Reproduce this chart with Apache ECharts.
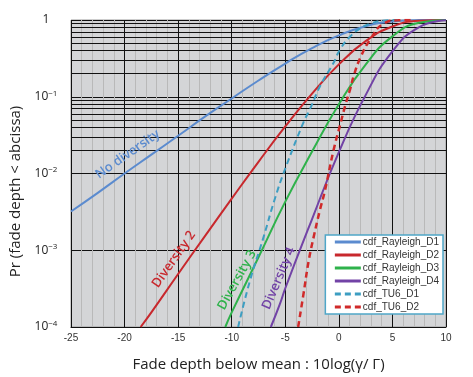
<!DOCTYPE html>
<html>
<head>
<meta charset="utf-8">
<script src="https://cdn.jsdelivr.net/npm/echarts@6/dist/echarts.min.js"></script>
<style>
  html, body { margin: 0; padding: 0; background: #fff; }
  #d_chart { width: 473px; height: 377px; }
</style>
</head>
<body>
<div id="d_chart"></div>
<script>
// values (x in dB, y = probability)
var d1X = [-25, -22.5, -20, -17.5, -15, -12.5, -10, -7.5, -5, -2.5, 0, 2.5, 5, 7.5, 10]
var d1Y = [0.0032, 0.0056, 0.0100, 0.0176, 0.031, 0.055, 0.095, 0.163, 0.271, 0.43, 0.63, 0.83, 0.958, 0.9965, 1.0]

var d2X = [-18.5, -17.5, -15, -12.5, -10, -7.5, -5, -2.5, 0, 2.5, 5, 7.5, 10]
var d2Y = [0.0001, 0.000155, 0.00049, 0.00153, 0.0047, 0.0142, 0.041, 0.110, 0.264, 0.53, 0.824, 0.976, 0.9995]

var d3X = [-10.6, -10, -7.5, -5, -2.5, 0, 2.5, 5, 7.5, 10]
var d3Y = [0.0001, 0.000155, 0.00081, 0.0043, 0.0193, 0.080, 0.263, 0.612, 0.919, 0.997]

var d4X = [-6.35, -5.5, -5, -2.5, 0, 2.5, 5, 7.5, 10]
var d4Y = [0.0001, 0.0002, 0.00032, 0.00255, 0.019, 0.105, 0.39, 0.81, 0.99]

var tu1X = [-9.4, -8.3, -7.05, -5.95, -5.0, -3.3, -2.7, -1.75, -0.5, 0.1, 1.05, 2.0, 3.0, 4.1, 5.5]
var tu1Y = [0.0001, 0.0004, 0.00145, 0.0048, 0.0116, 0.0465, 0.069, 0.138, 0.276, 0.41, 0.61, 0.78, 0.9, 0.98, 1.0]

var tu2X = [-3.8, -3.3, -2.8, -2.3, -1.8, -1.3, -0.5, 0.1, 0.6, 1.05, 1.4, 2.0, 2.9, 4.2, 5.5, 7]
var tu2Y = [0.0001, 0.00027, 0.00075, 0.0016, 0.0032, 0.006, 0.02, 0.042, 0.077, 0.125, 0.19, 0.32, 0.55, 0.9, 0.99, 1.0]

var seriesNames = ['cdf_Rayleigh_D1', 'cdf_Rayleigh_D2', 'cdf_Rayleigh_D3', 'cdf_Rayleigh_D4', 'cdf_TU6_D1', 'cdf_TU6_D2']

// log grid lines
var decades = [0.0001, 0.001, 0.01, 0.1]
var mults = [2, 3, 4, 5, 6, 7, 8, 9]

// curve annotations
var noteText = ['No diversity', 'Diversity 2', 'Diversity 3', 'Diversity 4']
var noteX = [-19.7, -15.4, -9.5, -5.6]
var noteY = [0.0178, 0.00076, 0.00041, 0.00043]
var noteAngle = [35, 55, 61, 67]
var noteColor = ['#5b8bcf', '#c8282d', '#2fb24b', '#7243a6']

function pairs (xs, ys) {
  return xs.map(function (x, i) { return [x, ys[i]] })
}

var minorLines = []
decades.forEach(function (d) {
  mults.forEach(function (m) {
    minorLines.push({ yAxis: d * m })
  })
})

var chart = echarts.init(document.getElementById('d_chart'))

var lineFont = 'Open Sans'

var option = {
  animation: false,
  grid: {
    left: 71,
    right: 27,
    top: 20,
    bottom: 47,
    show: true,
    backgroundColor: '#d4d5d7',
    borderColor: '#9a9a9a',
    borderWidth: 1
  },
  legend: {
    data: seriesNames,
    orient: 'vertical',
    right: 30,
    top: 235,
    itemWidth: 26,
    itemHeight: 10,
    itemGap: 3,
    padding: [2, 4, 2, 8],
    backgroundColor: '#fff',
    borderColor: '#4fa6c8',
    borderWidth: 1.5,
    borderRadius: 0,
    itemStyle: { opacity: 0 },
    lineStyle: { width: 3 },
    textStyle: {
      fontFamily: 'Liberation Sans',
      fontSize: 10,
      color: '#333',
      padding: [0, 0, 0, -3]
    }
  },
  xAxis: {
    type: 'value',
    min: -25,
    max: 10,
    interval: 5,
    name: 'Fade depth below mean : 10log(γ/ Γ)',
    nameLocation: 'middle',
    nameGap: 30,
    nameTextStyle: { fontFamily: lineFont, fontSize: 15, color: '#222' },
    axisLine: { onZero: false, lineStyle: { color: '#111', width: 1 } },
    axisTick: { show: false },
    axisLabel: { fontFamily: 'Liberation Sans', fontSize: 10, color: '#333', margin: 6 },
    splitLine: { show: true, lineStyle: { color: '#111', width: 1 } },
    minorTick: { show: false, splitNumber: 5 },
    minorSplitLine: { show: true, lineStyle: { color: '#b9b9b9', width: 1 } }
  },
  yAxis: {
    type: 'log',
    logBase: 10,
    min: 0.0001,
    max: 1,
    name: 'Pr (fade depth < abcissa)',
    nameLocation: 'middle',
    nameGap: 48,
    nameTextStyle: { fontFamily: lineFont, fontSize: 15, color: '#222', padding: [0, 36, 0, 0] },
    axisLine: { show: true, lineStyle: { color: '#111', width: 1 } },
    axisTick: { show: false },
    splitLine: { show: true, lineStyle: { color: '#111', width: 1 } },
    axisLabel: {
      align: 'center',
      margin: 25,
      color: '#222',
      formatter: function (v) {
        var e = Math.round(Math.log10(v))
        if (e === 0) return '{b|1}'
        return '{b|10}{s|−' + (-e) + '}'
      },
      rich: {
        b: { fontFamily: lineFont, fontSize: 12, color: '#222' },
        s: { fontFamily: lineFont, fontSize: 8, color: '#222', padding: [0, 0, 7, 0] }
      }
    }
  },
  series: [
    {
      name: 'grid',
      type: 'line',
      data: [],
      silent: true,
      markLine: {
        silent: true,
        z: 1,
        symbol: 'none',
        label: { show: false },
        lineStyle: { color: '#111', width: 1, type: 'solid' },
        data: minorLines
      }
    },
    { name: seriesNames[0], type: 'line', data: pairs(d1X, d1Y), smooth: true, showSymbol: false, symbol: 'none', z: 3, color: '#5b8bcf', lineStyle: { width: 2 } },
    { name: seriesNames[1], type: 'line', data: pairs(d2X, d2Y), smooth: true, showSymbol: false, symbol: 'none', z: 3, color: '#c8282d', lineStyle: { width: 2 } },
    { name: seriesNames[2], type: 'line', data: pairs(d3X, d3Y), smooth: true, showSymbol: false, symbol: 'none', z: 3, color: '#2fb24b', lineStyle: { width: 2 } },
    { name: seriesNames[3], type: 'line', data: pairs(d4X, d4Y), smooth: true, showSymbol: false, symbol: 'none', z: 3, color: '#7243a6', lineStyle: { width: 2 } },
    { name: seriesNames[4], type: 'line', data: pairs(tu1X, tu1Y), smooth: true, showSymbol: false, symbol: 'none', z: 3, color: '#3d9ec2', lineStyle: { width: 2, type: [6, 4] } },
    { name: seriesNames[5], type: 'line', data: pairs(tu2X, tu2Y), smooth: true, showSymbol: false, symbol: 'none', z: 3, color: '#d02a2a', lineStyle: { width: 2.5, type: [6, 4] } }
  ]
}

chart.setOption(option, true)

// curve annotations placed through the chart's own axes
var notes = noteText.map(function (t, i) {
  var p = chart.convertToPixel({ gridIndex: 0 }, [noteX[i], noteY[i]])
  return {
    type: 'text',
    x: p[0],
    y: p[1],
    rotation: noteAngle[i] * Math.PI / 180,
    z: 10,
    style: {
      text: t,
      fill: noteColor[i],
      font: '600 13px "Open Sans"',
      align: 'center',
      verticalAlign: 'middle'
    }
  }
})
chart.setOption({ graphic: notes })
</script>
</body>
</html>
